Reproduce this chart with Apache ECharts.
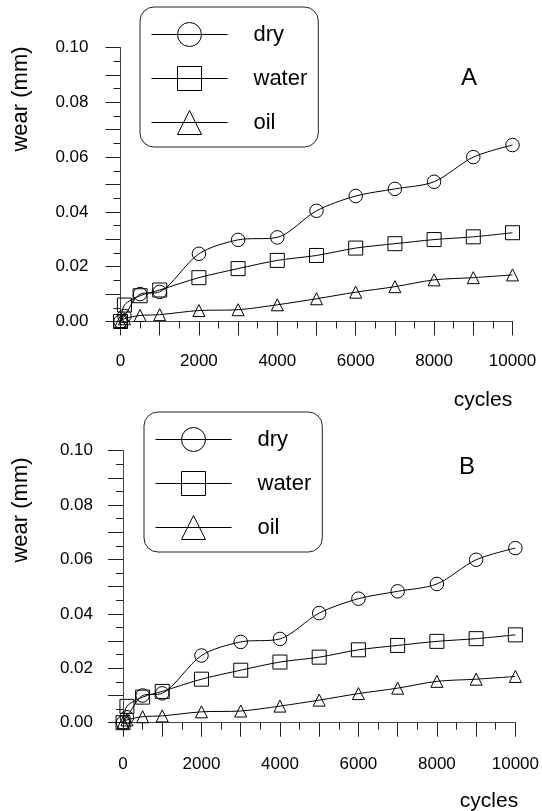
<!DOCTYPE html>
<html>
<head>
<meta charset="utf-8">
<script src="https://cdn.jsdelivr.net/npm/echarts@6/dist/echarts.min.js"></script>
<style>
  html, body { margin: 0; padding: 0; background: #fff; }
  #main { width: 542px; height: 811px; }
</style>
</head>
<body>
<div id="main"></div>
<script>
// cycles at which wear was measured
var cycles = [0, 100, 500, 1000, 2000, 3000, 4000, 5000, 6000, 7000, 8000, 9000, 10000];

// wear (mm), panel A
var dryA   = [0, 0.002, 0.0100, 0.0108, 0.0247, 0.0298, 0.0307, 0.0404, 0.0458, 0.0484, 0.0510, 0.0600, 0.0644];
var waterA = [0, 0.006, 0.0094, 0.0115, 0.0160, 0.0193, 0.0223, 0.0241, 0.0268, 0.0284, 0.0299, 0.0309, 0.0324];
var oilA   = [0, 0.001, 0.0022, 0.0025, 0.0040, 0.0043, 0.0061, 0.0083, 0.0107, 0.0127, 0.0152, 0.0160, 0.0170];

// wear (mm), panel B
var dryB   = [0, 0.002, 0.0100, 0.0108, 0.0247, 0.0297, 0.0308, 0.0403, 0.0456, 0.0483, 0.0510, 0.0599, 0.0642];
var waterB = [0, 0.006, 0.0094, 0.0115, 0.0160, 0.0193, 0.0223, 0.0241, 0.0268, 0.0284, 0.0299, 0.0309, 0.0323];
var oilB   = [0, 0.001, 0.0022, 0.0025, 0.0040, 0.0043, 0.0061, 0.0083, 0.0107, 0.0127, 0.0152, 0.0160, 0.0170];

var seriesNames = ['dry', 'water', 'oil'];
var panelLabels = ['A', 'B'];

var font = '"Liberation Sans", Arial, Helvetica, sans-serif';
var myChart = echarts.init(document.getElementById('main'));

function pairs(vals) {
    return cycles.map(function (c, i) { return [c, vals[i]]; });
}

function line(name, vals, symbol, size, gi) {
    return {
        name: name,
        type: 'line',
        xAxisIndex: gi,
        yAxisIndex: gi,
        data: pairs(vals),
        symbol: symbol,
        symbolSize: size,
        showAllSymbol: true,
        smooth: 0.3,
        lineStyle: { color: '#000', width: 1 },
        itemStyle: { color: 'rgba(255,255,255,0)', borderColor: '#000', borderWidth: 1 },
        emphasis: { disabled: true },
        animation: false
    };
}

function xAxis(gi, margin) {
    return {
        type: 'value', gridIndex: gi, min: 0, max: 10000, interval: 1000,
        axisLine: { show: true, onZero: false, lineStyle: { color: '#444', width: 1 } },
        axisTick: { show: true, length: 14, lineStyle: { color: '#222' } },
        minorTick: { show: true, splitNumber: 2, length: 7, lineStyle: { color: '#222' } },
        splitLine: { show: false },
        axisLabel: {
            margin: margin, fontSize: 17, color: '#000', fontFamily: font,
            formatter: function (v) { return v % 2000 === 0 ? String(v) : ''; }
        }
    };
}

function yAxis(gi, margin) {
    return {
        type: 'value', gridIndex: gi, min: 0, max: 0.1, interval: 0.01,
        axisLine: { show: true, onZero: false, lineStyle: { color: '#444', width: 1 } },
        axisTick: { show: true, length: 15, lineStyle: { color: '#222' } },
        minorTick: { show: true, splitNumber: 2, length: 7, lineStyle: { color: '#222' } },
        splitLine: { show: false },
        axisLabel: {
            margin: margin, fontSize: 17, color: '#000', fontFamily: font,
            formatter: function (v) { return Math.round(v * 100) % 2 === 0 ? v.toFixed(2) : ''; }
        }
    };
}

function legend(left, top) {
    return {
        orient: 'vertical', left: left, top: top,
        padding: [15, 11, 12, 11],
        itemWidth: 76, itemHeight: 30, itemGap: 19,
        borderColor: '#222', borderWidth: 1, borderRadius: 14,
        selectedMode: false,
        data: seriesNames,
        lineStyle: { width: 1, color: '#000' },
        itemStyle: { borderWidth: 1, borderColor: '#000' },
        textStyle: { fontSize: 22, color: '#000', fontFamily: font, padding: [0, 0, 0, 21] }
    };
}

function label(text, x, y, size, rot) {
    return {
        type: 'text', x: x, y: y, rotation: rot || 0,
        style: { text: text, fontSize: size, fontFamily: font, fill: '#000', align: 'center', verticalAlign: 'middle' }
    };
}

option = {
    backgroundColor: '#fff',
    animation: false,
    grid: [
        { left: 120.5, right: 29.5, top: 47.5, height: 274 },
        { left: 123, right: 25.5, top: 450.7, height: 272 }
    ],
    xAxis: [xAxis(0, 31), xAxis(1, 33)],
    yAxis: [yAxis(0, 32), yAxis(1, 30)],
    legend: [legend(140, 7), legend(144, 412)],
    graphic: [
        label('wear (mm)', 21, 99, 22, Math.PI / 2),
        label('wear (mm)', 21, 510, 22, Math.PI / 2),
        label(panelLabels[0], 469, 78, 24),
        label(panelLabels[1], 467, 467, 24),
        label('cycles', 483, 400, 21),
        label('cycles', 489, 801, 21)
    ],
    series: [
        line(seriesNames[0], dryA, 'circle', 13.5, 0),
        line(seriesNames[1], waterA, 'rect', 14, 0),
        line(seriesNames[2], oilA, 'triangle', 12, 0),
        line(seriesNames[0], dryB, 'circle', 13.5, 1),
        line(seriesNames[1], waterB, 'rect', 14, 1),
        line(seriesNames[2], oilB, 'triangle', 12, 1)
    ]
};

myChart.setOption(option);
</script>
</body>
</html>
